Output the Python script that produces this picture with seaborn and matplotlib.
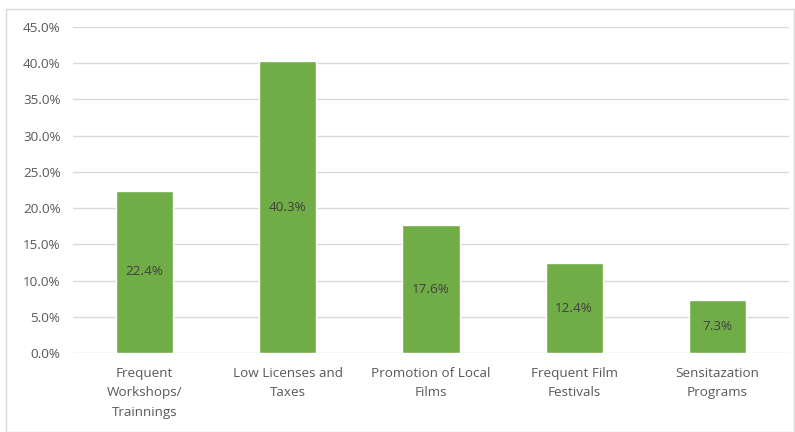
import matplotlib
matplotlib.use("Agg")
import matplotlib.pyplot as plt
import matplotlib.patches as mpatches
from matplotlib.ticker import PercentFormatter, MultipleLocator
import seaborn as sns
import pandas as pd

categories = [
    "Frequent\nWorkshops/\nTrainnings",
    "Low Licenses and\nTaxes",
    "Promotion of Local\nFilms",
    "Frequent Film\nFestivals",
    "Sensitazation\nPrograms",
]
values = [22.4, 40.3, 17.6, 12.4, 7.3]

df = pd.DataFrame({"category": categories, "value": values})

sns.set_theme(style="white")
plt.rcParams["font.family"] = ["Open Sans", "DejaVu Sans"]

W, H = 795, 432
fig = plt.figure(figsize=(W / 100, H / 100), dpi=100)
fig.patch.set_facecolor("white")

# outer chart frame
fig.patches.append(mpatches.Rectangle((6 / W, 0), (W - 7) / W, (H - 9) / H,
                                      transform=fig.transFigure, fill=False,
                                      edgecolor="#D9D9D9", linewidth=1.0))

ax = fig.add_axes([73 / W, (H - 353) / H, (789 - 73) / W, (353 - 27) / H])

sns.barplot(data=df, x="category", y="value", color="#70AD47", width=0.4,
            saturation=1, ax=ax, zorder=3)

ax.set_ylim(0, 45)
ax.set_xlim(-0.5, len(categories) - 0.5)
ax.yaxis.set_major_locator(MultipleLocator(5))
ax.yaxis.set_major_formatter(PercentFormatter(decimals=1))
ax.grid(axis="y", color="#D9D9D9", linewidth=1.0, zorder=0)
ax.set_axisbelow(True)
for s in ax.spines.values():
    s.set_visible(False)
ax.set_xlabel("")
ax.set_ylabel("")
ax.tick_params(axis="y", length=0, pad=9, labelsize=9.7, labelcolor="#595959")
ax.tick_params(axis="x", length=0, pad=10, labelsize=9.7, labelcolor="#595959")
for lbl in ax.get_xticklabels():
    lbl.set_linespacing(1.65)

for i, v in enumerate(values):
    ax.text(i, v / 2, f"{v:.1f}%", ha="center", va="center",
            fontsize=9.7, color="#404040", zorder=4)

fig.savefig("out.png", dpi=100, facecolor="white")
